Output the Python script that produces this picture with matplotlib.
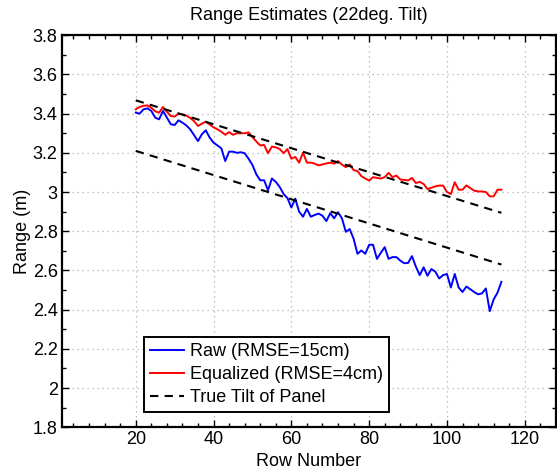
import numpy as np
import matplotlib
matplotlib.use("Agg")
import matplotlib.pyplot as plt
from matplotlib.ticker import MultipleLocator, FormatStrFormatter

rows = list(range(20, 115))

raw_range = [
    3.405, 3.400, 3.422, 3.427, 3.414, 3.380, 3.371, 3.414, 3.380, 3.346,
    3.342, 3.366, 3.354, 3.340, 3.320, 3.290, 3.260, 3.295, 3.315, 3.278,
    3.252, 3.238, 3.223, 3.158, 3.206, 3.206, 3.200, 3.203, 3.198, 3.170,
    3.138, 3.090, 3.060, 3.060, 3.009, 3.069, 3.052, 3.026, 2.990, 2.969,
    2.921, 2.966, 2.900, 2.874, 2.914, 2.874, 2.883, 2.890, 2.879, 2.852,
    2.892, 2.866, 2.897, 2.866, 2.797, 2.811, 2.762, 2.685, 2.702, 2.685,
    2.731, 2.731, 2.659, 2.690, 2.719, 2.659, 2.668, 2.668, 2.650, 2.637,
    2.638, 2.673, 2.620, 2.576, 2.616, 2.573, 2.607, 2.594, 2.559, 2.576,
    2.582, 2.513, 2.582, 2.513, 2.490, 2.518, 2.504, 2.490, 2.478, 2.483,
    2.508, 2.392, 2.452, 2.487, 2.542,
]

equalized_range = [
    3.422, 3.434, 3.440, 3.442, 3.430, 3.412, 3.405, 3.434, 3.410, 3.388,
    3.385, 3.400, 3.397, 3.390, 3.378, 3.362, 3.337, 3.349, 3.359, 3.345,
    3.330, 3.320, 3.308, 3.292, 3.306, 3.292, 3.300, 3.300, 3.300, 3.304,
    3.280, 3.258, 3.238, 3.240, 3.198, 3.232, 3.228, 3.220, 3.198, 3.219,
    3.170, 3.179, 3.150, 3.201, 3.150, 3.150, 3.145, 3.136, 3.141, 3.146,
    3.150, 3.145, 3.158, 3.140, 3.127, 3.141, 3.112, 3.107, 3.081, 3.069,
    3.059, 3.076, 3.072, 3.069, 3.076, 3.098, 3.076, 3.084, 3.064, 3.062,
    3.059, 3.072, 3.046, 3.052, 3.041, 3.015, 3.022, 3.029, 3.033, 3.033,
    3.000, 2.990, 3.050, 3.012, 3.012, 3.034, 3.020, 3.007, 3.003, 3.003,
    3.000, 2.978, 2.978, 3.012, 3.012,
]

# end points of the two reference lines for the true panel tilt
tilt_rows = [20, 114]
tilt_upper = [3.468, 2.894]
tilt_lower = [3.210, 2.630]

labels = ["Raw (RMSE=15cm)", "Equalized (RMSE=4cm)", "True Tilt of Panel"]

plt.rcParams["font.family"] = ["Liberation Sans", "DejaVu Sans"]
fs = 13
plt.rcParams["font.size"] = fs

fig = plt.figure(figsize=(5.57, 4.70), dpi=100)
ax = fig.add_axes([0.111, 0.091, 0.887, 0.834])

ax.plot(rows, raw_range, color="#0000ff", lw=1.4, label=labels[0])
ax.plot(rows, equalized_range, color="#ff0000", lw=1.4, label=labels[1])
ax.plot(tilt_rows, tilt_upper, color="black", lw=1.5, ls=(0, (4, 3)), label=labels[2])
ax.plot(tilt_rows, tilt_lower, color="black", lw=1.5, ls=(0, (4, 3)))

ax.set_xlim(1, 128)
ax.set_ylim(1.8, 3.8)
ax.xaxis.set_major_locator(MultipleLocator(20))
ax.xaxis.set_minor_locator(MultipleLocator(4))
ax.yaxis.set_major_locator(MultipleLocator(0.2))
ax.yaxis.set_minor_locator(MultipleLocator(0.1))
ax.yaxis.set_major_formatter(FormatStrFormatter("%g"))

ax.grid(True, which="major", color="#b0b0b0", ls=(0, (1, 3)), lw=0.9)
ax.tick_params(which="both", direction="in", top=True, right=True, labelsize=fs, colors="black")
ax.tick_params(which="major", length=5, width=1.0, pad=3)
ax.tick_params(which="minor", length=3, width=1.0)
for s in ax.spines.values():
    s.set_linewidth(1.6)

ax.set_title("Range Estimates (22deg. Tilt)", fontsize=fs, pad=11)
ax.set_xlabel("Row Number", fontsize=fs, labelpad=3)
ax.set_ylabel("Range (m)", fontsize=fs, labelpad=1)

leg = ax.legend(loc="lower left", bbox_to_anchor=(0.166, 0.038), borderaxespad=0,
                fancybox=False, framealpha=1, edgecolor="black", fontsize=fs,
                handlelength=1.9, handletextpad=0.3, labelspacing=0.32, borderpad=0.35)
leg.get_frame().set_linewidth(1.4)

fig.savefig("out.png", dpi=100)
